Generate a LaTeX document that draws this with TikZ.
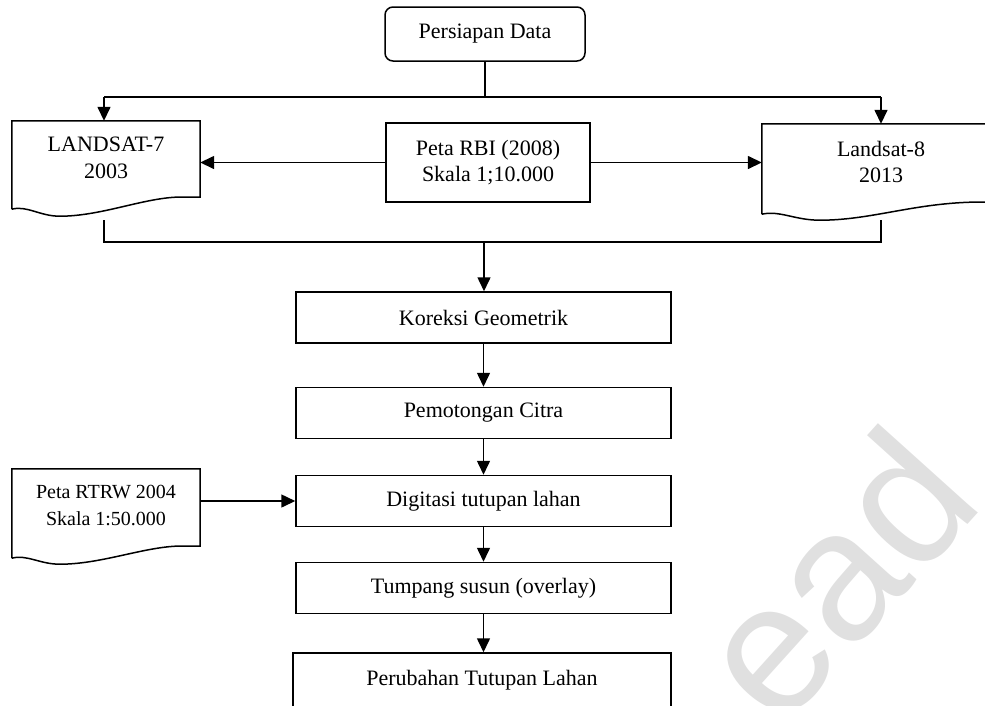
\documentclass[tikz,border=0pt]{standalone}
\usepackage{fontspec}
\setmainfont{Liberation Serif}
\newfontfamily\wmfont{Liberation Sans}
\usetikzlibrary{arrows.meta,calc}
\definecolor{wmgray}{HTML}{E0E0E0}
\tikzset{
  ln/.style={line width=1.5pt},
  arr/.style={ln,-{Triangle[length=14pt,width=13pt]}},
  procbox/.style={draw,line width=1.5pt,minimum width=375pt,minimum height=51pt,inner sep=0pt,align=center,font=\fontsize{22}{26}\selectfont},
  startbox/.style={procbox,rounded corners=8pt,minimum width=200pt,minimum height=54pt},
  docarea/.style={inner sep=0pt},
  doctext/.style={align=center,font=\fontsize{22}{27}\selectfont,inner sep=0pt},
}
\begin{document}
\begin{tikzpicture}[x=1pt,y=-1pt]
\useasboundingbox (0,0) rectangle (985,705);
% watermark
\node[rotate=48,text=wmgray,font=\wmfont\fontsize{185}{185}\selectfont,inner sep=0pt] (wm) at (834,574) {ead};

% nodes
\node[startbox] (pd) at (485,34) {Persiapan Data};
\node[procbox,minimum width=204pt,minimum height=79pt] (rbi) at (488,162.5) {Peta RBI (2008)\\Skala 1;10.000};

\node[docarea,minimum width=188pt,minimum height=88pt] (l7) at (106,165) {};
\node[doctext] (l7t) at (106,158) {LANDSAT-7\\2003};
\node[docarea,minimum width=238pt,minimum height=90pt] (l8) at (881,169) {};
\node[doctext,font=\fontsize{22}{26}\selectfont] (l8t) at (881,162) {Landsat-8\\2013};
\node[docarea,minimum width=188pt,minimum height=89pt] (rt) at (106,513.5) {};
\node[doctext,font=\fontsize{20}{27}\selectfont] (rtt) at (106,505) {Peta RTRW 2004\\Skala 1:50.000};

\node[procbox] (kg) at (483.5,317.5) {Koreksi Geometrik};
\node[procbox] (pc) at (483.5,413) {Pemotongan Citra};
\node[procbox] (dg) at (483.5,501) {Digitasi tutupan lahan};
\node[procbox] (ts) at (483.5,588) {Tumpang susun (overlay)};
\node[procbox,minimum width=378pt,minimum height=60pt,text depth=10pt] (pt) at (482,683) {Perubahan Tutupan Lahan};

% document shapes
\draw[ln] (l7.south west) -- (l7.north west) -- (l7.north east) -- ([yshift=12pt]l7.south east)
  -- ++(-25,0) .. controls +(-35,2) and +(40,0) .. ([xshift=48pt,yshift=-7pt]l7.south west)
  .. controls +(-20,0) and +(15,-4) .. (l7.south west);
\draw[ln] (l8.south west) -- (l8.north west) -- (l8.north east) -- ([yshift=12pt]l8.south east)
  -- ++(-30,0) .. controls +(-60,2) and +(50,0) .. ([xshift=58pt,yshift=-6pt]l8.south west)
  .. controls +(-25,0) and +(18,-4) .. (l8.south west);
\draw[ln] (rt.south west) -- (rt.north west) -- (rt.north east) -- ([yshift=12pt]rt.south east)
  -- ++(-25,0) .. controls +(-35,2) and +(40,0) .. ([xshift=48pt,yshift=-6pt]rt.south west)
  .. controls +(-20,0) and +(15,-4) .. (rt.south west);

% top distribution
\coordinate (tb) at (485,97);
\coordinate (tl) at (104,97);
\coordinate (tr) at (881,97);
\draw[ln] (pd.south) -- (tb);
\draw[ln] (tl) -- (tr);
\draw[arr] (tl) -- (tl |- l7.north);
\draw[arr] (tr) -- (tr |- l8.north);

% RBI side arrows
\draw[arr] (rbi.west) -- (rbi.west -| l7.east);
\draw[arr] (rbi.east) -- (rbi.east -| l8.west);

% bottom collector
\coordinate (bl0) at (104,220);
\coordinate (br0) at (881,220);
\coordinate (bl) at (104,242);
\coordinate (br) at (881,242);
\coordinate (bm) at (484,242);
\draw[ln] (bl0) -- (bl) -- (br) -- (br0);
\draw[arr] (bm) -- (bm |- kg.north);

% main chain
\draw[arr] (kg) -- (pc);
\draw[arr] (pc) -- (dg);
\draw[arr] (dg) -- (ts);
\draw[arr] (ts.south) -- (ts.south |- pt.north);
\draw[arr] (dg.west -| rt.east) -- (dg.west);
\end{tikzpicture}
\end{document}
